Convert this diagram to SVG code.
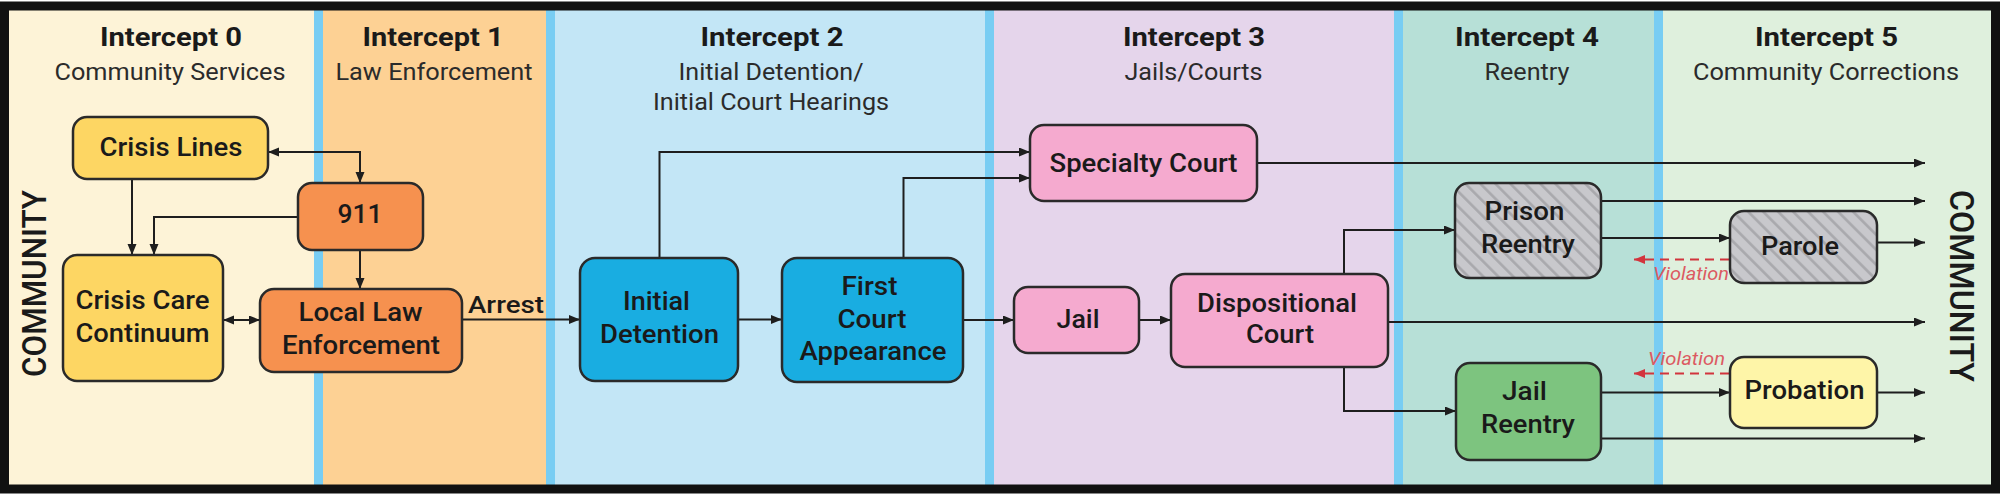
<svg xmlns="http://www.w3.org/2000/svg" width="2000" height="497" viewBox="0 0 2000 497">
<style>
.sep{fill:#78CDF3}
.node rect{stroke:#2a2a2a;stroke-width:2.5}
.t{font-family:Roboto,"Liberation Sans",sans-serif;text-anchor:middle}
.title{font-weight:700;font-size:25px;fill:#1a1a1a}
.sub{font-size:24px;fill:#2b2b2b}
.lbl{font-weight:500;font-size:26px;fill:#1a1a1a}
.side{font-weight:500;font-size:33px;fill:#1a1a1a}
.conn path{fill:none;stroke:#1e1e1e;stroke-width:2}
.conn path.viol{stroke:#D2343D;stroke-dasharray:9 6}
.vtext{font-family:Roboto,"Liberation Sans",sans-serif;font-style:italic;font-size:19px;fill:#DC5A62}
.yel{fill:#FDD663}
.org{fill:#F6914F}
.blu{fill:#19ADE1}
.pnk{fill:#F5AACF}
.gry{fill:url(#hatch)}
.grn{fill:#7DC47F}
.pyl{fill:#FEF5A8}
</style>
<defs>
<marker id="ah" markerUnits="userSpaceOnUse" markerWidth="12" markerHeight="10" refX="11" refY="4.5" orient="auto-start-reverse">
<path d="M0,0 L11,4.5 L0,9 Z" fill="#1e1e1e"/>
</marker>
<marker id="ar" markerUnits="userSpaceOnUse" markerWidth="12" markerHeight="10" refX="11" refY="4.5" orient="auto">
<path d="M0,0 L11,4.5 L0,9 Z" fill="#D2343D"/>
</marker>
<pattern id="hatch" patternUnits="userSpaceOnUse" width="10.6" height="10.6" patternTransform="rotate(-45)">
<rect width="10.6" height="10.6" fill="#C8C8CC"/>
<rect x="4" width="2.5" height="10.6" fill="#A7A7AB"/>
</pattern>
</defs>

<g id="bands">
<rect x="9" y="10" width="305" height="476" fill="#FDF3D7"/>
<rect x="323" y="10" width="223" height="476" fill="#FDD194"/>
<rect x="555" y="10" width="430" height="476" fill="#C3E6F6"/>
<rect x="994" y="10" width="400" height="476" fill="#E5D5EB"/>
<rect x="1403" y="10" width="251" height="476" fill="#B7E0D7"/>
<rect x="1663" y="10" width="328" height="476" fill="#DFF0DD"/>
<rect class="sep" x="314" y="10" width="9" height="476"/>
<rect class="sep" x="546" y="10" width="9" height="476"/>
<rect class="sep" x="985" y="10" width="9" height="476"/>
<rect class="sep" x="1394" y="10" width="9" height="476"/>
<rect class="sep" x="1654" y="10" width="9" height="476"/>
</g>

<g id="headers">
<text class="t title" x="171" y="46" textLength="142" lengthAdjust="spacingAndGlyphs">Intercept 0</text>
<text class="t sub" x="170" y="80" textLength="231" lengthAdjust="spacingAndGlyphs">Community Services</text>
<text class="t title" x="433" y="46" textLength="141" lengthAdjust="spacingAndGlyphs">Intercept 1</text>
<text class="t sub" x="434" y="80" textLength="197" lengthAdjust="spacingAndGlyphs">Law Enforcement</text>
<text class="t title" x="772" y="46" textLength="143" lengthAdjust="spacingAndGlyphs">Intercept 2</text>
<text class="t sub" x="771" y="80" textLength="185" lengthAdjust="spacingAndGlyphs">Initial Detention/</text>
<text class="t sub" x="771" y="110" textLength="236" lengthAdjust="spacingAndGlyphs">Initial Court Hearings</text>
<text class="t title" x="1194" y="46" textLength="142" lengthAdjust="spacingAndGlyphs">Intercept 3</text>
<text class="t sub" x="1193.5" y="80" textLength="138" lengthAdjust="spacingAndGlyphs">Jails/Courts</text>
<text class="t title" x="1527" y="46" textLength="144" lengthAdjust="spacingAndGlyphs">Intercept 4</text>
<text class="t sub" x="1527" y="80" textLength="85" lengthAdjust="spacingAndGlyphs">Reentry</text>
<text class="t title" x="1826.5" y="46" textLength="143" lengthAdjust="spacingAndGlyphs">Intercept 5</text>
<text class="t sub" x="1826" y="80" textLength="266" lengthAdjust="spacingAndGlyphs">Community Corrections</text>
</g>

<g id="community-left">
<text class="t side" transform="translate(45.5,283.5) rotate(-90)" x="0" y="0" textLength="187" lengthAdjust="spacingAndGlyphs">COMMUNITY</text>
</g>
<g id="community-right">
<text class="t side" transform="translate(1950,286) rotate(90)" x="0" y="0" textLength="192" lengthAdjust="spacingAndGlyphs">COMMUNITY</text>
</g>

<g id="connectors" class="conn">
<path d="M268,152 H360 V183" marker-start="url(#ah)" marker-end="url(#ah)"/>
<path d="M132,179 V255" marker-end="url(#ah)"/>
<path d="M298,217 H154 V255" marker-end="url(#ah)"/>
<path d="M360,250 V289" marker-end="url(#ah)"/>
<path d="M223,320 H260" marker-start="url(#ah)" marker-end="url(#ah)"/>
<path d="M462,319.5 H580" marker-end="url(#ah)"/>
<path d="M738,319.5 H782" marker-end="url(#ah)"/>
<path d="M659.5,258 V152 H1030" marker-end="url(#ah)"/>
<path d="M903.5,258 V178 H1030" marker-end="url(#ah)"/>
<path d="M963,320 H1014" marker-end="url(#ah)"/>
<path d="M1139,320 H1171" marker-end="url(#ah)"/>
<path d="M1257,163 H1925" marker-end="url(#ah)"/>
<path d="M1344,274 V230 H1455" marker-end="url(#ah)"/>
<path d="M1344,367 V411 H1456" marker-end="url(#ah)"/>
<path d="M1388,322 H1925" marker-end="url(#ah)"/>
<path d="M1601,201 H1925" marker-end="url(#ah)"/>
<path d="M1601,238 H1730" marker-end="url(#ah)"/>
<path d="M1877,242.5 H1925" marker-end="url(#ah)"/>
<path d="M1601,392.5 H1730" marker-end="url(#ah)"/>
<path d="M1877,392.5 H1925" marker-end="url(#ah)"/>
<path d="M1601,438.5 H1925" marker-end="url(#ah)"/>
<path class="viol" d="M1729,259.5 H1634" marker-end="url(#ar)"/>
<path class="viol" d="M1729,373.5 H1634" marker-end="url(#ar)"/>
<text x="468" y="313" textLength="76" lengthAdjust="spacingAndGlyphs" style="font-family:Roboto,'Liberation Sans',sans-serif;font-weight:500;font-size:23px;fill:#1a1a1a">Arrest</text>
<text class="vtext" x="1653" y="280" textLength="76" lengthAdjust="spacingAndGlyphs">Violation</text>
<text class="vtext" x="1648" y="365" textLength="77" lengthAdjust="spacingAndGlyphs">Violation</text>
</g>

<g id="crisis-lines" class="node">
<rect class="yel" x="73" y="117" width="195" height="62" rx="14"/>
<text class="t lbl" x="171" y="156" textLength="143" lengthAdjust="spacingAndGlyphs">Crisis Lines</text>
</g>
<g id="n911" class="node">
<rect class="org" x="298" y="183" width="125" height="67" rx="14"/>
<text class="t lbl" x="360" y="223" textLength="45" lengthAdjust="spacingAndGlyphs">911</text>
</g>
<g id="crisis-care" class="node">
<rect class="yel" x="63" y="255" width="160" height="126" rx="14"/>
<text class="t lbl" x="142.5" y="309" textLength="134" lengthAdjust="spacingAndGlyphs">Crisis Care</text>
<text class="t lbl" x="142.5" y="342" textLength="134" lengthAdjust="spacingAndGlyphs">Continuum</text>
</g>
<g id="local-law" class="node">
<rect class="org" x="260" y="289" width="202" height="83" rx="14"/>
<text class="t lbl" x="360.5" y="321" textLength="124" lengthAdjust="spacingAndGlyphs">Local Law</text>
<text class="t lbl" x="361" y="354" textLength="158" lengthAdjust="spacingAndGlyphs">Enforcement</text>
</g>
<g id="initial-detention" class="node">
<rect class="blu" x="580" y="258" width="158" height="123" rx="15"/>
<text class="t lbl" x="656.5" y="310" textLength="67" lengthAdjust="spacingAndGlyphs">Initial</text>
<text class="t lbl" x="659.5" y="343" textLength="119" lengthAdjust="spacingAndGlyphs">Detention</text>
</g>
<g id="first-court" class="node">
<rect class="blu" x="782" y="258" width="181" height="124" rx="15"/>
<text class="t lbl" x="869.5" y="295" textLength="56" lengthAdjust="spacingAndGlyphs">First</text>
<text class="t lbl" x="872" y="328" textLength="69" lengthAdjust="spacingAndGlyphs">Court</text>
<text class="t lbl" x="873" y="360" textLength="147" lengthAdjust="spacingAndGlyphs">Appearance</text>
</g>
<g id="specialty-court" class="node">
<rect class="pnk" x="1030" y="125" width="227" height="76" rx="14"/>
<text class="t lbl" x="1143.5" y="172" textLength="188" lengthAdjust="spacingAndGlyphs">Specialty Court</text>
</g>
<g id="jail" class="node">
<rect class="pnk" x="1014" y="287" width="125" height="66" rx="14"/>
<text class="t lbl" x="1078" y="328" textLength="43" lengthAdjust="spacingAndGlyphs">Jail</text>
</g>
<g id="dispositional-court" class="node">
<rect class="pnk" x="1171" y="274" width="217" height="93" rx="14"/>
<text class="t lbl" x="1277" y="312" textLength="160" lengthAdjust="spacingAndGlyphs">Dispositional</text>
<text class="t lbl" x="1280" y="343" textLength="68" lengthAdjust="spacingAndGlyphs">Court</text>
</g>
<g id="prison-reentry" class="node">
<rect class="gry" x="1455" y="183" width="146" height="95" rx="14"/>
<text class="t lbl" x="1524.5" y="220" textLength="80" lengthAdjust="spacingAndGlyphs">Prison</text>
<text class="t lbl" x="1528" y="253" textLength="94" lengthAdjust="spacingAndGlyphs">Reentry</text>
</g>
<g id="jail-reentry" class="node">
<rect class="grn" x="1456" y="363" width="145" height="97" rx="14"/>
<text class="t lbl" x="1524.5" y="400" textLength="45" lengthAdjust="spacingAndGlyphs">Jail</text>
<text class="t lbl" x="1528" y="433" textLength="94" lengthAdjust="spacingAndGlyphs">Reentry</text>
</g>
<g id="parole" class="node">
<rect class="gry" x="1730" y="211" width="147" height="72" rx="14"/>
<text class="t lbl" x="1800" y="255" textLength="78" lengthAdjust="spacingAndGlyphs">Parole</text>
</g>
<g id="probation" class="node">
<rect class="pyl" x="1730" y="357" width="147" height="71" rx="14"/>
<text class="t lbl" x="1804.5" y="399" textLength="120" lengthAdjust="spacingAndGlyphs">Probation</text>
</g>

<g id="frame">
<rect x="4.5" y="6" width="1991" height="483" fill="none" stroke="#111" stroke-width="9"/>
</g>
</svg>
